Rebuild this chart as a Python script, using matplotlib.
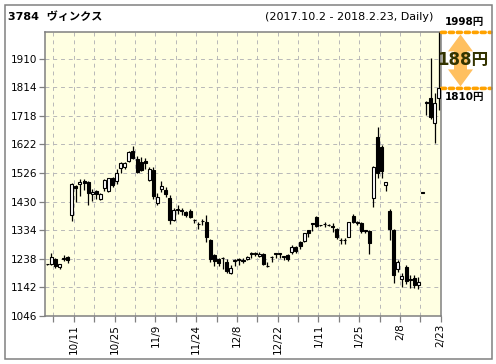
import matplotlib
matplotlib.use("Agg")
import matplotlib.pyplot as plt
import numpy as np
from matplotlib.patches import Polygon, Rectangle

# daily OHLC, 2017.10.2 - 2018.2.23
opens = [1220, 1219, 1237, 1212, 1239, 1245, 1385, 1481, 1489, 1500,
         1495, 1455, 1466, 1438, 1476, 1466, 1508, 1500, 1544, 1545,
         1566, 1601, 1572, 1564, 1566, 1503, 1536, 1424, 1471, 1469,
         1441, 1368, 1405, 1400, 1396, 1398, 1369, 1355, 1366, 1363,
         1300, 1250, 1236, 1242, 1228, 1189, 1230, 1236, 1232, 1237,
         1256, 1257, 1248, 1253, 1215, 1245, 1256, 1255, 1246, 1251,
         1260, 1279, 1296, 1299, 1335, 1357, 1379, 1351, 1355, 1352,
         1346, 1338, 1301, 1301, 1312, 1382, 1363, 1359, 1335, 1330,
         1441, 1648, 1614, 1485, 1400, 1335, 1203, 1170, 1209, 1169,
         1172, 1150, 1461, 1765, 1777, 1695, 1777]
highs = [1222, 1256, 1242, 1222, 1250, 1247, 1493, 1485, 1505, 1505,
         1500, 1472, 1470, 1458, 1507, 1510, 1512, 1538, 1564, 1562,
         1599, 1617, 1583, 1581, 1575, 1547, 1545, 1460, 1499, 1478,
         1452, 1408, 1420, 1408, 1399, 1404, 1371, 1363, 1372, 1385,
         1305, 1255, 1240, 1245, 1236, 1216, 1237, 1240, 1240, 1247,
         1262, 1261, 1260, 1257, 1228, 1247, 1258, 1258, 1248, 1253,
         1284, 1282, 1299, 1326, 1336, 1358, 1381, 1353, 1363, 1355,
         1357, 1340, 1307, 1307, 1362, 1388, 1365, 1361, 1336, 1335,
         1550, 1682, 1620, 1496, 1405, 1338, 1234, 1189, 1217, 1184,
         1184, 1178, 1461, 1767, 1913, 1793, 1998]
lows = [1216, 1217, 1206, 1204, 1229, 1223, 1366, 1430, 1450, 1470,
        1417, 1433, 1438, 1436, 1464, 1463, 1480, 1489, 1527, 1540,
        1564, 1572, 1525, 1532, 1541, 1500, 1440, 1420, 1463, 1447,
        1354, 1365, 1388, 1385, 1377, 1376, 1357, 1337, 1350, 1295,
        1228, 1214, 1215, 1205, 1191, 1187, 1215, 1217, 1223, 1235,
        1240, 1246, 1244, 1218, 1212, 1228, 1241, 1240, 1234, 1232,
        1255, 1258, 1272, 1296, 1312, 1332, 1346, 1348, 1346, 1348,
        1329, 1303, 1287, 1287, 1310, 1357, 1350, 1323, 1325, 1253,
        1411, 1508, 1508, 1467, 1301, 1156, 1195, 1144, 1153, 1139,
        1139, 1137, 1458, 1721, 1708, 1626, 1737]
closes = [1219, 1245, 1213, 1220, 1240, 1235, 1488, 1477, 1497, 1492,
          1458, 1463, 1457, 1455, 1502, 1508, 1486, 1525, 1558, 1558,
          1597, 1575, 1531, 1537, 1558, 1538, 1448, 1447, 1481, 1456,
          1368, 1402, 1403, 1399, 1386, 1378, 1367, 1354, 1364, 1310,
          1236, 1229, 1224, 1240, 1198, 1208, 1235, 1235, 1231, 1245,
          1255, 1255, 1255, 1221, 1214, 1244, 1255, 1256, 1244, 1236,
          1277, 1263, 1280, 1323, 1326, 1355, 1348, 1350, 1354, 1351,
          1345, 1310, 1300, 1300, 1360, 1363, 1359, 1332, 1333, 1290,
          1545, 1525, 1534, 1495, 1338, 1184, 1226, 1180, 1165, 1166,
          1150, 1159, 1458, 1762, 1713, 1760, 1810]

date_labels = ["10/11", "10/25", "11/9", "11/24", "12/8",
               "12/22", "1/11", "1/25", "2/8", "2/23"]
y_ticks = [1046, 1142, 1238, 1334, 1430, 1526, 1622, 1718, 1814, 1910]

title = "3784  ヴィンクス"
period = "(2017.10.2 - 2018.2.23, Daily)"

FONTS = ["DejaVu Sans", "Noto Sans CJK JP"]
W, H = 496, 364


def fx(px):
    return px / W


def fy(py):
    return 1 - py / H


def main():
    plt.rcParams["font.family"] = FONTS
    o = np.array(opens, float)
    h = np.array(highs, float)
    l = np.array(lows, float)
    c = np.array(closes, float)
    x = np.arange(len(o))

    fig = plt.figure(figsize=(W / 100, H / 100), dpi=100)
    fig.patch.set_facecolor("white")
    ax = fig.add_axes([fx(45.3), fy(316), fx(440.7) - fx(45.3), fy(32.4) - fy(316)])
    ax.set_facecolor("#ffffe2")

    ax.vlines(x, l, h, color="black", lw=0.9, zorder=3)
    up = c >= o
    ax.bar(x, np.maximum(np.abs(c - o), 1.5), bottom=np.minimum(o, c), width=0.74,
           color=np.where(up, "white", "black"), edgecolor="black", linewidth=0.8,
           zorder=4)

    top = h.max()
    ax.set_xlim(-0.5, len(x) - 0.5)
    ax.set_ylim(y_ticks[0], top)

    major = 6.5 + 10 * np.arange(len(date_labels))
    minor = major - 5
    ax.set_xticks(major)
    ax.set_xticklabels(date_labels, rotation=90, fontsize=7.5)
    ax.set_xticks(minor, minor=True)
    ax.set_yticks(y_ticks)
    ax.set_yticklabels([str(v) for v in y_ticks], fontsize=7.5)
    ax.tick_params(axis="both", which="both", length=4, width=0.9, color="#808080", pad=1.5)
    ax.grid(True, which="both", color="#b8b8b8", lw=0.7, ls=(0, (4, 4)), zorder=1)
    for s in ax.spines.values():
        s.set_color("#808080")
        s.set_linewidth(1.1)

    # title row
    fig.text(fx(8), fy(17), title, fontsize=8, fontweight="bold", va="center", ha="left")
    fig.text(fx(433), fy(17), period, fontsize=8, va="center", ha="right")

    # range marker on the right: high of the period vs last close
    last = c[-1]
    diff = int(top - last)
    xy_tr = ("figure fraction", "data")
    for val in (top, last):
        ax.annotate("", xy=(fx(491), val), xytext=(fx(441.5), val),
                    xycoords=xy_tr, textcoords=xy_tr,
                    arrowprops=dict(arrowstyle="-", color="#ffa200", lw=2.6,
                                    linestyle=(0, (1.1, 1.1)), shrinkA=0, shrinkB=0))
    # double arrow built in display space
    p_top = ax.transData.transform((0, top))[1]
    p_bot = ax.transData.transform((0, last))[1]
    cx, hw, sw, hh = 460.5, 12.5, 6.5, 17
    pts = [(cx, p_top - 2), (cx + hw, p_top - 2 - hh), (cx + sw, p_top - 2 - hh),
           (cx + sw, p_bot + 2 + hh), (cx + hw, p_bot + 2 + hh), (cx, p_bot + 2),
           (cx - hw, p_bot + 2 + hh), (cx - sw, p_bot + 2 + hh), (cx - sw, p_top - 2 - hh),
           (cx - hw, p_top - 2 - hh)]
    fig.patches.append(Polygon(pts, closed=True, transform=None, facecolor="#ffc060",
                               edgecolor="none", zorder=5))
    mid = (p_top + p_bot) / 2
    fig.text(fx(463), mid / H, f"{diff}円", fontsize=12, fontweight="bold",
             color="#333300", ha="center", va="center", zorder=6)
    fig.text(fx(464), p_top / H + 10 / H, f"{int(top)}円", fontsize=7.5,
             fontweight="bold", ha="center", va="center")
    fig.text(fx(464), p_bot / H - 9 / H, f"{int(last)}円", fontsize=7.5,
             fontweight="bold", ha="center", va="center")

    fig.patches.append(Rectangle((fx(5), fy(359)), fx(492) - fx(5), fy(5) - fy(359),
                                 transform=fig.transFigure, fill=False,
                                 edgecolor="#808080", lw=1.1, zorder=0))

    plt.savefig("out.png", dpi=100)
    plt.close()


if __name__ == "__main__":
    main()
